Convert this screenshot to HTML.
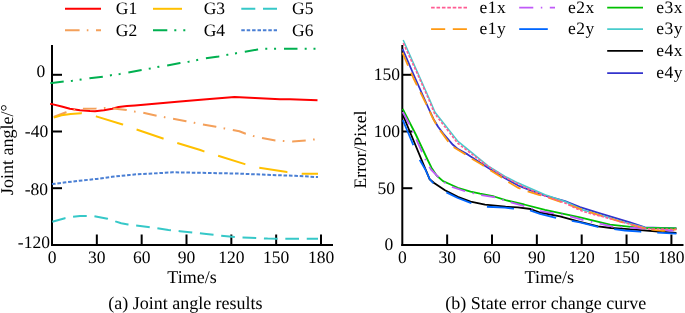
<!DOCTYPE html>
<html><head><meta charset="utf-8"><style>
html,body{margin:0;padding:0;background:#fff;}
svg{display:block;will-change:transform;}
text{font-family:"Liberation Serif",serif;font-size:18px;fill:#000;text-rendering:geometricPrecision;}
.t{font-size:17.5px;}
.lg{font-size:17.5px;}
.rl{font-size:17.5px;letter-spacing:0.5px;}
</style></head><body>
<svg width="685" height="313" viewBox="0 0 685 313">
<rect width="685" height="313" fill="#fff"/>
<line x1="52.0" y1="45.0" x2="52.0" y2="246.0" stroke="#000" stroke-width="2"/>
<line x1="51.0" y1="245.0" x2="333" y2="245.0" stroke="#000" stroke-width="2"/>
<line x1="52.0" y1="74.8" x2="62.0" y2="74.8" stroke="#000" stroke-width="2"/>
<line x1="52.0" y1="131.5" x2="62.0" y2="131.5" stroke="#000" stroke-width="2"/>
<line x1="52.0" y1="188.2" x2="62.0" y2="188.2" stroke="#000" stroke-width="2"/>
<line x1="96.83" y1="245.0" x2="96.83" y2="234.5" stroke="#000" stroke-width="2"/>
<line x1="141.67" y1="245.0" x2="141.67" y2="234.5" stroke="#000" stroke-width="2"/>
<line x1="186.50" y1="245.0" x2="186.50" y2="234.5" stroke="#000" stroke-width="2"/>
<line x1="231.33" y1="245.0" x2="231.33" y2="234.5" stroke="#000" stroke-width="2"/>
<line x1="276.17" y1="245.0" x2="276.17" y2="234.5" stroke="#000" stroke-width="2"/>
<line x1="321.00" y1="245.0" x2="321.00" y2="234.5" stroke="#000" stroke-width="2"/>
<line x1="402.3" y1="45.0" x2="402.3" y2="246.0" stroke="#000" stroke-width="2"/>
<line x1="401.3" y1="245.0" x2="683.5" y2="245.0" stroke="#000" stroke-width="2"/>
<line x1="402.3" y1="74.8" x2="412.3" y2="74.8" stroke="#000" stroke-width="2"/>
<line x1="402.3" y1="131.5" x2="412.3" y2="131.5" stroke="#000" stroke-width="2"/>
<line x1="402.3" y1="188.2" x2="412.3" y2="188.2" stroke="#000" stroke-width="2"/>
<line x1="447.15" y1="245.0" x2="447.15" y2="234.5" stroke="#000" stroke-width="2"/>
<line x1="492.00" y1="245.0" x2="492.00" y2="234.5" stroke="#000" stroke-width="2"/>
<line x1="536.85" y1="245.0" x2="536.85" y2="234.5" stroke="#000" stroke-width="2"/>
<line x1="581.70" y1="245.0" x2="581.70" y2="234.5" stroke="#000" stroke-width="2"/>
<line x1="626.55" y1="245.0" x2="626.55" y2="234.5" stroke="#000" stroke-width="2"/>
<line x1="671.40" y1="245.0" x2="671.40" y2="234.5" stroke="#000" stroke-width="2"/>
<g>
<polyline points="50.2,104.0 52,104.1 61.7,106.5 69.9,108.7 79.9,110.3 90,111 95,111.2 103.9,110.3 112.3,108.8 118.6,106.9 127,106.1 135,105.4 180,101.5 206.7,99.2 234.5,96.9 255,97.9 280,99.2 290,99.3 317.5,100.2" fill="none" stroke="#FF0000" stroke-width="2.0" stroke-linejoin="round"/>
<polyline points="52.5,117.3 54.2,116.8 66.1,112.2 74.4,110 82.6,108.7 96,108.5 104.6,107.9 113.2,108.5 126.6,110 134.8,111.6 143.3,112.8 156.6,115.7 164.6,117.2 173,118.8 186.2,121.2 194.4,122.8 202.7,124.4 216,126.8 224.5,128.4 232.8,130 239.3,131.2 245.7,133.7 253.7,136.1 262.1,138.1 275.4,140.4 283.9,141 292.3,141.4 305.9,140.6 314.4,139.4 317.5,138.8" fill="none" stroke="#F4A05A" stroke-width="2.0" stroke-linejoin="round" stroke-dasharray="13.6 7.4 1.6 7.78" stroke-dashoffset="-1.35"/>
<polyline points="52.5,118 61.5,115.2 70.7,113.9 81.4,113.3 88,114.2 96.1,116.4 121.8,124.2 136.1,129.4 163,138.5 177,142.9 200.3,150 204,151.4 218.1,155.8 244.9,164.1 259.2,167.7 287,172.1 302,173.7 318,173.8" fill="none" stroke="#FFC000" stroke-width="2.0" stroke-linejoin="round" stroke-dasharray="28.5 14.34" stroke-dashoffset="-1.39"/>
<polyline points="49.8,83.2 52,82.9 63.8,81.6 72.2,80.8 81,79.6 89.5,78.3 102.8,76.7 111,75.2 119.8,74 128.4,72.4 141.6,69.9 149.8,68.6 158.9,66.8 167.3,65.4 180.1,63.1 188.7,61.7 197.4,60 205.8,58.3 218.7,56.4 227.4,54.8 236.2,53.2 245,51.7 257.5,49.6 264,48.8 318,48.8" fill="none" stroke="#00B050" stroke-width="2.0" stroke-linejoin="round" stroke-dasharray="13.5 7.2 2 6.8 2 7.92" stroke-dashoffset="-0.5"/>
<polyline points="52.3,221.8 64.9,218.2 72.8,216.8 80,216 86.2,215.9 94.1,216.2 107.5,218.7 115.4,221.4 121.2,223.2 128,224.4 148.1,226.9 168.5,229.9 180,231.2 206.3,234 221.1,235.7 234.8,237 242.2,237.6 250,237.8 267.6,238.6 285,238.8 318,238.8" fill="none" stroke="#36C8C8" stroke-width="2.0" stroke-linejoin="round" stroke-dasharray="13.7 7.715"/>
<polyline points="52,184.1 64,182.6 79.2,180.8 96.7,178.9 111.9,176.8 129.4,175 137.6,174.2 159.5,173.1 172.6,172.3 196,172.7 238.8,173.6 262.2,174.6 283,175.4 295,175.8 318,177.1" fill="none" stroke="#4A7FD4" stroke-width="2.0" stroke-linejoin="round" stroke-dasharray="3.6 1.8"/>
<polyline points="402.5,48.9 415.1,78 429.3,110 433.6,119.2 438.1,126.8 443.2,133.5 452.9,144.8 458,149.1 467.6,154.4 488,167.8 505,178.3 517.8,185.3 530.6,190.4 545,195.6 565,201.2 580,207.2 600,213.3 630,222.4 645,227.3 676.4,228.5" fill="none" stroke="#3333CC" stroke-width="1.8" stroke-linejoin="round"/>
<polyline points="402.7,114.5 429.6,179.2 434.1,183 445,190.3 457.8,196.9 470.6,201.6 485,204.6 505.6,206.7 517.8,207.3 530.6,209 540,212.5 560,216.3 580,221.8 598,226.4 611,228 625,228.9 676.4,233" fill="none" stroke="#000000" stroke-width="1.8" stroke-linejoin="round"/>
<polyline points="403.2,40 416.5,70 429.8,100 435,112.2 458,141.4 488,165.9 505,176.4 517.8,182.8 525,186 545,194.8 565,201.5 583,210 600,215 625,222.5 645,227.6 676.4,228.5" fill="none" stroke="#48CCCC" stroke-width="1.5" stroke-linejoin="round"/>
<polyline points="402.7,108.8 415.8,134.5 427.7,160 431.5,167.7 436.6,175.5 443,181.1 450,184.3 457.8,187.8 470.6,191.6 480,193.7 494.1,196.5 505.6,200.2 524.2,204.5 545,209.8 580,217.4 610,224.6 640,227.8 676.5,228.3" fill="none" stroke="#00C000" stroke-width="1.8" stroke-linejoin="round"/>
<polyline points="402.7,119.8 407,130 413.4,145.3 419.8,160 425.6,170 429.6,179 433.4,183.4 446.3,192.3 457.8,198 470.6,202.9 486.4,206.7 505,207.7 513.2,208.6 530,210.5 540,213.8 555,217.6 580,222.4 597.9,226.8 625,230.5 640.3,231.7 655.5,232.5 676.4,233.7" fill="none" stroke="#0066FF" stroke-width="1.8" stroke-linejoin="round" stroke-dasharray="27.2 16" stroke-dashoffset="-0.3"/>
<polyline points="402.7,112 409.1,123.7 412.1,130 427,163 431,169.5 437.9,176.6 444.3,182.4 452.7,187.1 464.2,191 481.3,195.2 494.1,197.1 510.7,202.3 520,204.8 540,211.2 565,215 580,219.2 599.7,223.7 611.3,226.4 629.8,227.7 642.7,228.5 655.5,229.3 670,230.5 676.4,230.8" fill="none" stroke="#C05AF8" stroke-width="1.8" stroke-linejoin="round" stroke-dasharray="14 7.5 1.5 7.5"/>
<polyline points="402.5,52.7 413.4,78 426.1,103.9 433,118.5 438,127.5 447.8,141 454.2,147.4 463.2,153.1 471.3,158.4 482.1,164.8 489.8,169.9 500,176.3 507.6,181.5 518.4,187.9 525,190.6 538.9,194.8 547.4,197.2 560,201.6 580,208.8 600.6,215.7 621.1,221.9 641.1,227.3 649.1,229.3 662.8,230.9 670.8,230.1 676.4,229.3" fill="none" stroke="#FF9912" stroke-width="1.8" stroke-linejoin="round" stroke-dasharray="14 7.6"/>
<polyline points="403.2,43.2 415.7,70 429,100 434.4,113.3 458,143.5 488,166.4 505,177.3 517.8,183.8 525,187.6 545,196 565,203 580,210.3 591.2,213.9 602.4,216.5 624.7,222.8 647.5,228.9 676.4,229.3" fill="none" stroke="#FF5C93" stroke-width="1.6" stroke-linejoin="round" stroke-dasharray="2.7 1.7"/>
</g>
<text class="t" x="52.00" y="263.3" text-anchor="middle">0</text>
<text class="t" x="96.83" y="263.3" text-anchor="middle">30</text>
<text class="t" x="141.67" y="263.3" text-anchor="middle">60</text>
<text class="t" x="186.50" y="263.3" text-anchor="middle">90</text>
<text class="t" x="231.33" y="263.3" text-anchor="middle">120</text>
<text class="t" x="276.17" y="263.3" text-anchor="middle">150</text>
<text class="t" x="321.00" y="263.3" text-anchor="middle">180</text>
<text class="t" x="402.30" y="263.3" text-anchor="middle">0</text>
<text class="t" x="447.15" y="263.3" text-anchor="middle">30</text>
<text class="t" x="492.00" y="263.3" text-anchor="middle">60</text>
<text class="t" x="536.85" y="263.3" text-anchor="middle">90</text>
<text class="t" x="581.70" y="263.3" text-anchor="middle">120</text>
<text class="t" x="626.55" y="263.3" text-anchor="middle">150</text>
<text class="t" x="671.40" y="263.3" text-anchor="middle">180</text>
<text class="t" x="45.2" y="76.8" text-anchor="end">0</text>
<text class="t" x="48.2" y="137.0" text-anchor="end">-40</text>
<text class="t" x="48.1" y="195.0" text-anchor="end">-80</text>
<text class="t" x="49.9" y="247.8" text-anchor="end">-120</text>
<text class="t" x="400.1" y="80.3" text-anchor="end">150</text>
<text class="t" x="400.0" y="136.9" text-anchor="end">100</text>
<text class="t" x="395.0" y="193.9" text-anchor="end">50</text>
<text class="t" x="393.2" y="250.1" text-anchor="end">0</text>
<text x="192" y="283.4" text-anchor="middle">Time/s</text>
<text x="549.3" y="283.4" text-anchor="middle">Time/s</text>
<text transform="translate(13.4,149.7) rotate(-90)" text-anchor="middle">Joint angle/°</text>
<text transform="translate(366,149.5) rotate(-90)" text-anchor="middle" style="font-size:17.5px">Error/Pixel</text>
<text x="185.4" y="308.5" text-anchor="middle">(a) Joint angle results</text>
<text x="545.7" y="308.5" text-anchor="middle">(b) State error change curve</text>
<line x1="65" y1="8.8" x2="101" y2="8.8" stroke="#FF0000" stroke-width="2.0"/>
<line x1="153" y1="8.8" x2="182" y2="8.8" stroke="#FFC000" stroke-width="2.0"/>
<line x1="241.3" y1="8.8" x2="277" y2="8.8" stroke="#36C8C8" stroke-width="2.0" stroke-dasharray="14 7.7"/>
<line x1="65" y1="30.3" x2="101" y2="30.3" stroke="#F4A05A" stroke-width="2.0" stroke-dasharray="14.6 7.2 1.6 7.6"/>
<line x1="153" y1="30.3" x2="186" y2="30.3" stroke="#00B050" stroke-width="2.0" stroke-dasharray="14.3 7 2 7 2 7"/>
<line x1="241.3" y1="30.3" x2="277" y2="30.3" stroke="#4A7FD4" stroke-width="2.0" stroke-dasharray="3.5 1.9"/>
<text class="lg" x="115.8" y="14.3">G1</text>
<text class="lg" x="203.7" y="14.3">G3</text>
<text class="lg" x="292" y="14.3">G5</text>
<text class="lg" x="115.8" y="35.6">G2</text>
<text class="lg" x="203.7" y="35.6">G4</text>
<text class="lg" x="292" y="35.6">G6</text>
<line x1="431.1" y1="7.6" x2="467" y2="7.6" stroke="#FF5C93" stroke-width="1.8" stroke-dasharray="3.6 1.8"/>
<line x1="431.1" y1="29.1" x2="467" y2="29.1" stroke="#FF9912" stroke-width="1.8" stroke-dasharray="14.1 7.6"/>
<line x1="519.2" y1="7.6" x2="555" y2="7.6" stroke="#C05AF8" stroke-width="1.8" stroke-dasharray="14.1 7.5 1.5 7.5"/>
<line x1="519.2" y1="29.1" x2="547.8" y2="29.1" stroke="#0066FF" stroke-width="1.8"/>
<line x1="607.2" y1="7.6" x2="643" y2="7.6" stroke="#00C000" stroke-width="1.8"/>
<line x1="607.2" y1="29.1" x2="643" y2="29.1" stroke="#48CCCC" stroke-width="1.8"/>
<line x1="607.2" y1="50.8" x2="643" y2="50.8" stroke="#000000" stroke-width="1.8"/>
<line x1="607.2" y1="73.2" x2="643" y2="73.2" stroke="#3333CC" stroke-width="1.8"/>
<text class="rl" x="479.6" y="12.7">e1x</text>
<text class="rl" x="479.6" y="34.4">e1y</text>
<text class="rl" x="568" y="12.7">e2x</text>
<text class="rl" x="568" y="34.4">e2y</text>
<text class="rl" x="656.2" y="12.7">e3x</text>
<text class="rl" x="656.2" y="34.4">e3y</text>
<text class="rl" x="656.2" y="56.0">e4x</text>
<text class="rl" x="656.2" y="77.8">e4y</text>
</svg></body></html>
